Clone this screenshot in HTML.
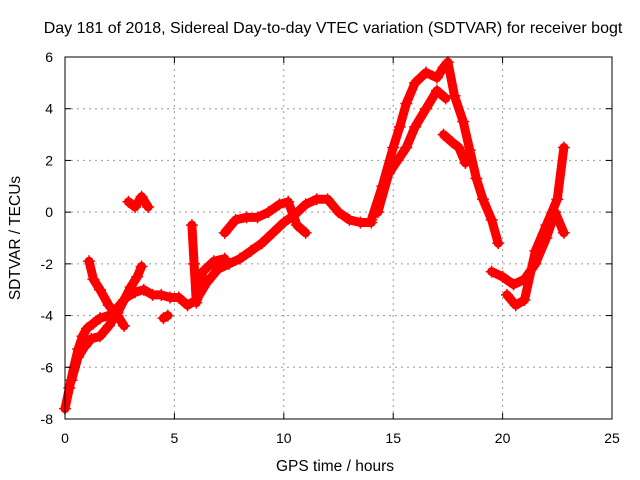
<!DOCTYPE html>
<html><head><meta charset="utf-8"><style>
body{margin:0;background:#fff}
svg{display:block;font-family:"Liberation Sans",sans-serif}
</style></head><body>
<svg id="chart" width="640" height="480" viewBox="0 0 640 480">
<rect width="640" height="480" fill="#fff"/>
<text x="333" y="33" font-size="16" text-anchor="middle">Day 181 of 2018, Sidereal Day-to-day VTEC variation (SDTVAR) for receiver bogt</text>
<text x="335" y="471" font-size="15.5" text-anchor="middle">GPS time / hours</text>
<text transform="translate(20,238) rotate(-90)" font-size="15.5" text-anchor="middle">SDTVAR / TECUs</text>
<g id="grid"></g><g id="marks"></g><g id="axes"></g>
</svg>
<script>
const xTicks=[0,5,10,15,20,25];
const yTicks=[-8,-6,-4,-2,0,2,4,6];
const trackMainT=[0.0,0.2,0.4,0.6,0.8,1.0,1.3,1.6,2.0,2.4,2.8,3.2,3.6,4.0,4.4,4.8,5.2,5.6,6.0,6.5,7.0,7.5,8.0,8.5,9.0,9.5,10.0,10.5,11.0,11.5,12.0,12.5,13.0,13.5,14.0];
const trackMainV=[-7.6,-6.8,-6.0,-5.3,-4.8,-4.5,-4.3,-4.1,-4.0,-3.7,-3.3,-3.1,-3.0,-3.2,-3.2,-3.3,-3.3,-3.6,-3.4,-2.7,-2.2,-2.0,-1.8,-1.5,-1.2,-0.8,-0.4,-0.1,0.3,0.5,0.5,0.0,-0.3,-0.4,-0.4];
const trackLowT=[0.3,0.6,0.9,1.2,1.6,2.0,2.4,2.7,3.0,3.3,3.5];
const trackLowV=[-6.5,-5.6,-5.2,-4.9,-4.8,-4.4,-3.9,-3.4,-2.9,-2.5,-2.1];
const trackSpike1T=[1.1,1.3,1.6,2.0,2.4,2.7];
const trackSpike1V=[-1.9,-2.6,-3.0,-3.6,-4.0,-4.4];
const trackHumpT=[2.9,3.2,3.5,3.8];
const trackHumpV=[0.4,0.2,0.6,0.2];
const trackSpike2T=[5.8,5.9,6.0,6.3,6.8,7.3];
const trackSpike2V=[-0.5,-2.0,-3.5,-2.3,-1.9,-1.8];
const trackBlobT=[4.5,4.7];
const trackBlobV=[-4.1,-4.0];
const trackUpperT=[7.3,7.8,8.3,8.8,9.3,9.8,10.2,10.6,11.0];
const trackUpperV=[-0.8,-0.3,-0.2,-0.2,0.0,0.3,0.4,-0.5,-0.8];
const trackRiseT=[14.0,14.5,15.0,15.3,15.6,16.0,16.5,17.0,17.3,17.5,17.8,18.2,18.5,18.8,19.1,19.5,19.8];
const trackRiseV=[-0.3,1.0,2.5,3.3,4.2,5.0,5.4,5.2,5.6,5.8,4.5,3.5,2.4,1.3,0.5,-0.3,-1.2];
const trackRise2T=[14.3,14.8,15.2,15.6,16.0,16.5,17.0,17.4];
const trackRise2V=[0.0,1.5,2.0,2.5,3.3,4.0,4.7,4.4];
const trackDrop2T=[17.3,17.7,18.0,18.3];
const trackDrop2V=[3.0,2.7,2.5,1.9];
const trackTailT=[19.5,20.0,20.5,21.0,21.5,22.0,22.4,22.8];
const trackTailV=[-2.3,-2.5,-2.8,-2.6,-2.0,-1.0,0.0,-0.8];
const trackTail2T=[20.2,20.6,21.0,21.5,22.0,22.5,22.8];
const trackTail2V=[-3.2,-3.6,-3.4,-1.5,-0.5,0.5,2.5];
const tracks=[[trackMainT,trackMainV],[trackLowT,trackLowV],[trackSpike1T,trackSpike1V],[trackHumpT,trackHumpV],[trackSpike2T,trackSpike2V],[trackBlobT,trackBlobV],[trackUpperT,trackUpperV],[trackRiseT,trackRiseV],[trackRise2T,trackRise2V],[trackDrop2T,trackDrop2V],[trackTailT,trackTailV],[trackTail2T,trackTail2V]];
const X0=65,X1=612,Y0=419,Y1=57;
const sx=v=>X0+(v-0)/25*(X1-X0);
const sy=v=>Y0-(v+8)/14*(Y0-Y1);
const NS='http://www.w3.org/2000/svg';
const mk=(t,a,p)=>{const e=document.createElementNS(NS,t);for(const k in a)e.setAttribute(k,a[k]);p.appendChild(e);return e;};
const grid=document.getElementById('grid'),axes=document.getElementById('axes'),marks=document.getElementById('marks');
xTicks.forEach(t=>{const x=sx(t);
 if(t>0&&t<25){const g=mk('line',{x1:x,x2:x,y1:Y1,y2:Y0,stroke:'#999','stroke-dasharray':'2,4'},grid);
 
 }
 mk('line',{x1:x,x2:x,y1:Y0,y2:Y0-6,stroke:'#000'},axes);mk('line',{x1:x,x2:x,y1:Y1,y2:Y1+6,stroke:'#000'},axes);
 const l=mk('text',{x:x,y:Y0+24,'font-size':14,'text-anchor':'middle'},axes);l.textContent=t;
 
 });
yTicks.forEach(t=>{const y=sy(t);
 if(t>-8&&t<6){const g=mk('line',{x1:X0,x2:X1,y1:y,y2:y,stroke:'#999','stroke-dasharray':'2,4'},grid);
 
 }
 mk('line',{x1:X0,x2:X0+6,y1:y,y2:y,stroke:'#000'},axes);mk('line',{x1:X1,x2:X1-6,y1:y,y2:y,stroke:'#000'},axes);
 const l=mk('text',{x:X0-12,y:y+5,'font-size':14,'text-anchor':'end'},axes);l.textContent=t;
 
 });
const fr=mk('rect',{x:X0,y:Y1,width:X1-X0,height:Y0-Y1,fill:'none',stroke:'#000'},axes);


tracks.forEach(([T,V])=>{
 const pl=mk('polyline',{points:T.map((t,i)=>sx(t)+','+sy(V[i])).join(' '),fill:'none',stroke:'#f00','stroke-width':9,'stroke-linejoin':'round','stroke-linecap':'round'},marks);
 
 
 T.forEach((t,i)=>{const x=sx(t),y=sy(V[i]);
  const p=mk('path',{d:`M${x-6},${y}h12M${x},${y-6}v12`,stroke:'#f00','stroke-width':1.5},marks);
  
  });
});
</script>
</body></html>
